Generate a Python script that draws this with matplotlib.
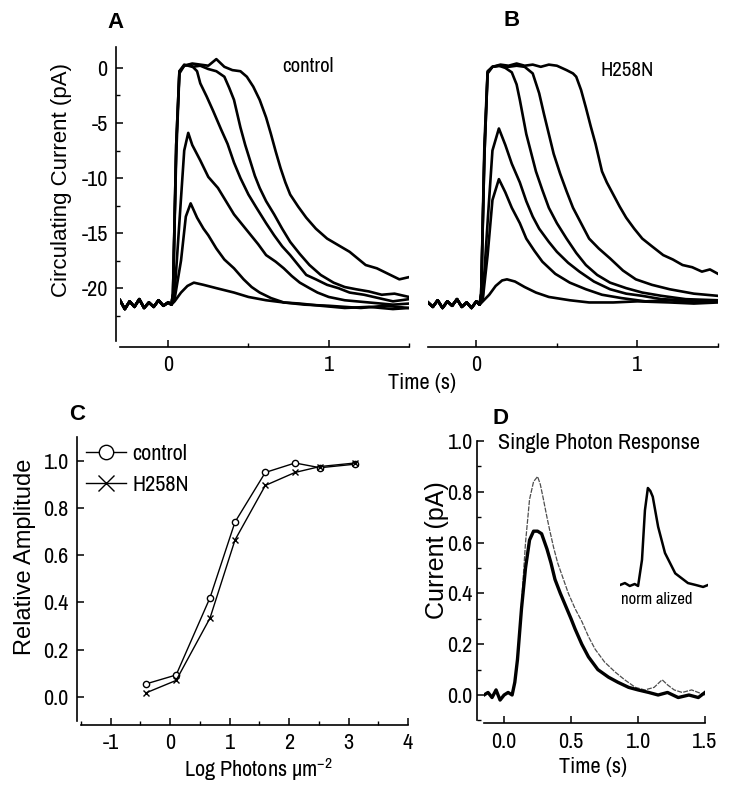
import matplotlib
matplotlib.use("Agg")
import matplotlib.pyplot as plt
from matplotlib.ticker import MultipleLocator

plt.rcParams['axes.unicode_minus'] = False
NARROW = ['Archivo Narrow', 'Roboto Condensed', 'DejaVu Sans']
WIDE = ['Liberation Sans', 'DejaVu Sans']

W, H = 729, 786

# ---- panel A / B: flash responses (time s, current pA) ----
A_pre_t = [-0.30, -0.27, -0.24, -0.21, -0.18, -0.15, -0.12, -0.09, -0.06, -0.03, 0.00, 0.02]
A_pre_i = [-21.1, -21.9, -21.2, -21.7, -21.0, -21.8, -21.3, -21.7, -21.1, -21.6, -21.3, -21.5]

A_t1 = [0.04, 0.08, 0.12, 0.16, 0.22, 0.30, 0.41, 0.50, 0.61, 0.72, 0.82, 0.95, 1.1, 1.25, 1.4, 1.5]
A_i1 = [-21.2, -20.4, -19.8, -19.5, -19.7, -20.0, -20.4, -20.8, -21.1, -21.3, -21.4, -21.6, -21.8, -21.7, -21.9, -21.8]
A_t2 = [0.04, 0.08, 0.11, 0.14, 0.18, 0.22, 0.25, 0.30, 0.35, 0.41, 0.47, 0.52, 0.57, 0.64, 0.72, 0.85, 1.0, 1.2, 1.35, 1.5]
A_i2 = [-21.0, -17.5, -13.5, -12.3, -13.6, -14.6, -15.2, -16.4, -17.4, -18.2, -19.2, -19.9, -20.4, -20.9, -21.3, -21.5, -21.6, -21.8, -21.6, -21.8]
A_t3 = [0.04, 0.07, 0.10, 0.125, 0.15, 0.20, 0.25, 0.31, 0.36, 0.41, 0.46, 0.51, 0.56, 0.61, 0.67, 0.72, 0.77, 0.82, 0.88, 0.93, 1.0, 1.1, 1.25, 1.4, 1.5]
A_i3 = [-20.5, -14.0, -7.5, -5.9, -7.0, -8.4, -9.9, -10.9, -12.1, -13.3, -14.2, -15.1, -16.0, -17.0, -17.6, -18.2, -18.9, -19.5, -20.0, -20.4, -20.8, -21.1, -21.3, -21.5, -21.4]
A_t4 = [0.03, 0.05, 0.07, 0.10, 0.14, 0.18, 0.20, 0.24, 0.28, 0.33, 0.37, 0.41, 0.45, 0.50, 0.55, 0.61, 0.66, 0.71, 0.76, 0.81, 0.86, 0.92, 0.99, 1.06, 1.13, 1.22, 1.31, 1.40, 1.50]
A_i4 = [-20.5, -8.0, -0.5, 0.2, 0.3, -0.3, -1.4, -2.6, -3.9, -5.6, -6.9, -8.6, -10.0, -11.5, -12.7, -14.1, -15.2, -16.2, -17.0, -17.9, -18.8, -19.2, -19.7, -20.0, -20.4, -20.6, -20.9, -21.2, -21.0]
A_t5 = [0.03, 0.05, 0.07, 0.10, 0.15, 0.20, 0.25, 0.30, 0.35, 0.38, 0.41, 0.45, 0.48, 0.51, 0.54, 0.57, 0.61, 0.66, 0.71, 0.76, 0.82, 0.88, 0.95, 1.03, 1.10, 1.17, 1.25, 1.33, 1.41, 1.50]
A_i5 = [-20.5, -7.0, -0.3, 0.3, 0.1, 0.2, -0.1, -0.3, -0.8, -1.8, -2.9, -5.4, -7.0, -8.4, -9.8, -10.9, -12.1, -13.3, -14.6, -15.8, -16.9, -17.9, -18.8, -19.5, -19.9, -20.1, -20.3, -20.6, -20.5, -20.8]
A_t6 = [0.03, 0.05, 0.07, 0.10, 0.15, 0.20, 0.25, 0.30, 0.35, 0.40, 0.45, 0.49, 0.53, 0.57, 0.61, 0.64, 0.67, 0.70, 0.73, 0.76, 0.81, 0.86, 0.92, 0.99, 1.06, 1.13, 1.18, 1.23, 1.30, 1.37, 1.44, 1.50]
A_i6 = [-20.5, -7.0, -0.3, 0.2, 0.4, 0.3, 0.2, 0.8, 0.1, -0.2, -0.3, -0.8, -1.7, -2.9, -4.5, -6.0, -7.6, -9.1, -10.4, -11.5, -12.6, -13.6, -14.6, -15.5, -16.1, -16.7, -17.3, -17.9, -18.2, -18.7, -19.2, -19.0]

B_pre_t = [-0.30, -0.27, -0.24, -0.21, -0.18, -0.15, -0.12, -0.09, -0.06, -0.03, 0.00, 0.02]
B_pre_i = [-21.3, -21.7, -21.1, -21.8, -21.2, -21.6, -21.0, -21.7, -21.3, -21.8, -21.2, -21.5]

B_t1 = [0.04, 0.08, 0.12, 0.16, 0.19, 0.24, 0.30, 0.37, 0.45, 0.58, 0.70, 0.85, 1.0, 1.2, 1.35, 1.5]
B_i1 = [-21.2, -20.6, -19.8, -19.3, -19.2, -19.4, -19.9, -20.4, -20.8, -21.1, -21.3, -21.3, -21.2, -21.3, -21.4, -21.3]
B_t2 = [0.04, 0.07, 0.10, 0.14, 0.18, 0.22, 0.27, 0.31, 0.36, 0.41, 0.49, 0.58, 0.68, 0.78, 0.90, 1.05, 1.2, 1.35, 1.5]
B_i2 = [-21.0, -17.0, -12.0, -10.1, -11.3, -12.7, -14.1, -15.5, -16.6, -17.6, -18.7, -19.5, -20.1, -20.6, -20.9, -21.2, -21.1, -21.3, -21.2]
B_t3 = [0.04, 0.07, 0.10, 0.14, 0.18, 0.22, 0.27, 0.31, 0.35, 0.39, 0.45, 0.50, 0.57, 0.64, 0.73, 0.83, 0.93, 1.03, 1.15, 1.3, 1.5]
B_i3 = [-20.8, -14.0, -7.5, -5.5, -7.0, -8.7, -10.4, -12.1, -13.5, -14.6, -15.8, -16.7, -17.7, -18.5, -19.4, -20.1, -20.5, -20.7, -21.0, -21.1, -21.2]
B_t4 = [0.03, 0.05, 0.07, 0.10, 0.14, 0.18, 0.22, 0.25, 0.27, 0.31, 0.37, 0.41, 0.45, 0.50, 0.56, 0.62, 0.68, 0.75, 0.83, 0.93, 1.03, 1.15, 1.3, 1.5]
B_i4 = [-20.5, -8.0, -0.5, 0.1, 0.2, 0.0, -0.4, -1.5, -2.9, -6.0, -9.4, -11.1, -12.7, -14.1, -15.5, -16.8, -17.9, -18.8, -19.5, -20.0, -20.4, -20.7, -21.0, -21.1]
B_t5 = [0.03, 0.05, 0.07, 0.10, 0.15, 0.20, 0.25, 0.30, 0.35, 0.39, 0.42, 0.45, 0.48, 0.52, 0.56, 0.60, 0.65, 0.70, 0.76, 0.83, 0.91, 0.99, 1.09, 1.20, 1.35, 1.5]
B_i5 = [-20.5, -8.0, -0.4, 0.1, 0.2, 0.1, 0.2, 0.1, -0.5, -2.3, -4.2, -6.0, -7.8, -9.6, -11.2, -12.7, -14.1, -15.5, -16.4, -17.3, -18.4, -19.2, -19.7, -20.1, -20.5, -20.7]
B_t6 = [0.03, 0.05, 0.07, 0.10, 0.15, 0.20, 0.25, 0.30, 0.35, 0.40, 0.45, 0.50, 0.56, 0.60, 0.62, 0.65, 0.68, 0.71, 0.74, 0.78, 0.81, 0.85, 0.89, 0.93, 0.98, 1.03, 1.09, 1.16, 1.22, 1.28, 1.34, 1.40, 1.45, 1.50]
B_i6 = [-20.5, -7.0, -0.3, 0.1, 0.3, 0.2, 0.4, 0.2, 0.3, 0.1, 0.3, 0.2, -0.2, -0.5, -0.8, -2.0, -3.6, -5.3, -6.9, -9.4, -10.4, -11.5, -12.6, -13.6, -14.6, -15.5, -16.2, -17.0, -17.4, -17.9, -18.1, -18.5, -18.3, -18.7]

# ---- panel C: intensity-response ----
C_logI = [-0.41, 0.10, 0.67, 1.09, 1.60, 2.10, 2.52, 3.11]
C_control = [0.055, 0.093, 0.42, 0.74, 0.95, 0.99, 0.97, 0.985]
C_h258n = [0.017, 0.07, 0.334, 0.664, 0.895, 0.95, 0.975, 0.99]

# ---- panel D: single photon response ----
D_pre_t = [-0.15, -0.12, -0.09, -0.06, -0.03, 0.00, 0.03, 0.06]
D_pre_i = [0.0, 0.01, -0.01, 0.02, -0.02, 0.0, 0.01, 0.0]
D_t_thick = [0.08, 0.10, 0.13, 0.16, 0.19, 0.22, 0.25, 0.28, 0.32, 0.35, 0.38, 0.42, 0.46, 0.50, 0.53, 0.58, 0.63, 0.70, 0.78, 0.85, 0.93, 1.0, 1.08, 1.15, 1.22, 1.30, 1.38, 1.45, 1.50]
D_i_thick = [0.05, 0.14, 0.34, 0.50, 0.61, 0.645, 0.645, 0.635, 0.575, 0.52, 0.455, 0.40, 0.35, 0.30, 0.26, 0.20, 0.15, 0.10, 0.07, 0.05, 0.03, 0.02, 0.01, 0.0, 0.01, -0.01, 0.0, -0.01, 0.01]
D_t_thin = [0.08, 0.10, 0.13, 0.16, 0.19, 0.22, 0.25, 0.27, 0.29, 0.32, 0.34, 0.37, 0.40, 0.44, 0.48, 0.53, 0.58, 0.63, 0.68, 0.75, 0.83, 0.90, 0.98, 1.05, 1.12, 1.18, 1.22, 1.27, 1.33, 1.40, 1.50]
D_i_thin = [0.05, 0.14, 0.36, 0.60, 0.77, 0.84, 0.86, 0.83, 0.78, 0.70, 0.65, 0.58, 0.52, 0.46, 0.40, 0.34, 0.29, 0.23, 0.18, 0.13, 0.09, 0.06, 0.03, 0.02, 0.03, 0.06, 0.04, 0.02, 0.01, 0.02, 0.0]

# inset: normalized responses
N_t = [-0.30, -0.20, -0.10, 0.00, 0.07, 0.15, 0.21, 0.27, 0.32, 0.37, 0.48, 0.62, 0.83, 1.09, 1.25, 1.40, 1.50]
N_v = [0.0, 0.02, -0.01, 0.01, -0.01, 0.26, 0.77, 1.0, 0.97, 0.91, 0.60, 0.33, 0.12, 0.02, 0.0, -0.02, 0.0]


def rect(left, top, right, bottom):
    return [left / W, 1 - bottom / H, (right - left) / W, (bottom - top) / H]


def ftext(x, y, s, **kw):
    fig.text(x / W, 1 - y / H, s, ha=kw.pop('ha', 'center'), va=kw.pop('va', 'center'), **kw)


def style_axes(ax, left_off=4, bottom_off=6, left=True):
    ax.spines['top'].set_visible(False)
    ax.spines['right'].set_visible(False)
    for s in ax.spines.values():
        s.set_linewidth(1.2)
    ax.spines['bottom'].set_position(('outward', bottom_off * 0.72))
    if left:
        ax.spines['left'].set_position(('outward', left_off * 0.72))
    else:
        ax.spines['left'].set_visible(False)
        ax.tick_params(axis='y', which='both', left=False, labelleft=False)
    ax.tick_params(which='major', direction='in', length=5, width=1.1, labelsize=16, pad=6)
    ax.tick_params(which='minor', direction='in', length=3, width=1.0)
    for lab in ax.get_xticklabels() + ax.get_yticklabels():
        lab.set_family(NARROW)


def plot_traces(ax, pre_t, pre_i, traces):
    for t, i in traces:
        ax.plot(pre_t + t, pre_i + i, color='black', lw=1.9)


fig = plt.figure(figsize=(W / 100, H / 100), dpi=100)

# A
axA = fig.add_axes(rect(120, 47, 409, 341))
plot_traces(axA, A_pre_t, A_pre_i,
            [(A_t1, A_i1), (A_t2, A_i2), (A_t3, A_i3), (A_t4, A_i4), (A_t5, A_i5), (A_t6, A_i6)])
axA.set_xlim(-0.3, 1.5)
axA.set_ylim(-24.8, 1.9)
axA.set_xticks([0, 1])
axA.set_yticks([0, -5, -10, -15, -20])
axA.xaxis.set_minor_locator(MultipleLocator(0.5))
axA.yaxis.set_minor_locator(MultipleLocator(2.5))
style_axes(axA)

# B
axB = fig.add_axes(rect(428, 47, 718, 341))
plot_traces(axB, B_pre_t, B_pre_i,
            [(B_t1, B_i1), (B_t2, B_i2), (B_t3, B_i3), (B_t4, B_i4), (B_t5, B_i5), (B_t6, B_i6)])
axB.set_xlim(-0.3, 1.5)
axB.set_ylim(-24.8, 1.9)
axB.set_xticks([0, 1])
axB.xaxis.set_minor_locator(MultipleLocator(0.5))
style_axes(axB, left=False)

# C
axC = fig.add_axes(rect(81, 437, 408, 720.6))
axC.plot(C_logI, C_control, '-o', color='black', lw=1.0, ms=4.5,
         mfc='white', mew=1.0, label='control')
axC.plot(C_logI, C_h258n, '-x', color='black', lw=1.0, ms=5,
         mew=1.0, label='H258N')
axC.set_xlim(-1.5, 4.0)
axC.set_ylim(-0.1, 1.1)
axC.set_xticks([-1, 0, 1, 2, 3, 4])
axC.set_yticks([0.0, 0.2, 0.4, 0.6, 0.8, 1.0])
axC.set_yticklabels(['0.0', '0.2', '0.4', '0.6', '0.8', '1.0'])
axC.xaxis.set_minor_locator(MultipleLocator(0.5))
style_axes(axC, left_off=4, bottom_off=4)
axC.legend(loc='upper left', bbox_to_anchor=(86 / W, 1 - 444 / H),
           bbox_transform=fig.transFigure, frameon=False,
           markerscale=2.3, handlelength=1.8, handletextpad=0.3,
           labelspacing=0.5, borderaxespad=0, borderpad=0,
           prop={'family': NARROW, 'size': 16})

# D
axD = fig.add_axes(rect(484, 441, 705, 720.4))
axD.plot(D_pre_t + D_t_thin, D_pre_i + D_i_thin, color='0.3', lw=0.9,
         ls=(0, (4, 1)))
axD.plot(D_pre_t + D_t_thick, D_pre_i + D_i_thick, color='black', lw=2.4)
axD.set_xlim(-0.15, 1.5)
axD.set_ylim(-0.1, 1.0)
axD.set_xticks([0.0, 0.5, 1.0, 1.5])
axD.set_xticklabels(['0.0', '0.5', '1.0', '1.5'])
axD.set_yticks([0.0, 0.2, 0.4, 0.6, 0.8, 1.0])
axD.set_yticklabels(['0.0', '0.2', '0.4', '0.6', '0.8', '1.0'])
axD.yaxis.set_minor_locator(MultipleLocator(0.1))
style_axes(axD, left_off=7, bottom_off=3)
axD.tick_params(axis='y', pad=3)

axN = fig.add_axes(rect(620, 478.3, 708, 594.7))
axN.plot(N_t, N_v, color='black', lw=1.8)
axN.set_xlim(-0.3, 1.5)
axN.set_ylim(-0.1, 1.1)
axN.axis('off')

# texts
ftext(115, 22, 'A', fontsize=16, fontweight='bold', family=WIDE)
ftext(512, 20, 'B', fontsize=16, fontweight='bold', family=WIDE)
ftext(77, 415, 'C', fontsize=16, fontweight='bold', family=WIDE)
ftext(500, 418, 'D', fontsize=16, fontweight='bold', family=WIDE)
ftext(282, 67, 'control', ha='left', fontsize=15, family=NARROW)
ftext(600, 70, 'H258N', ha='left', fontsize=15, family=NARROW)
ftext(62, 180, 'Circulating Current (pA)', rotation=90, fontsize=16, family=WIDE)
ftext(422, 383, 'Time (s)', fontsize=16, family=NARROW)
ftext(25, 557, 'Relative Amplitude', rotation=90, fontsize=17, family=WIDE)
ftext(258, 770, r'Log Photons µm$^{\mathregular{-2}}$', fontsize=16, family=NARROW)
ftext(599, 443, 'Single Photon Response', fontsize=16, family=NARROW)
ftext(437, 550, 'Current (pA)', rotation=90, fontsize=18, family=WIDE)
ftext(657, 600, 'norm alized', fontsize=12, family=NARROW)
ftext(593, 767, 'Time (s)', fontsize=16, family=NARROW)

fig.savefig('out.png', dpi=100)
